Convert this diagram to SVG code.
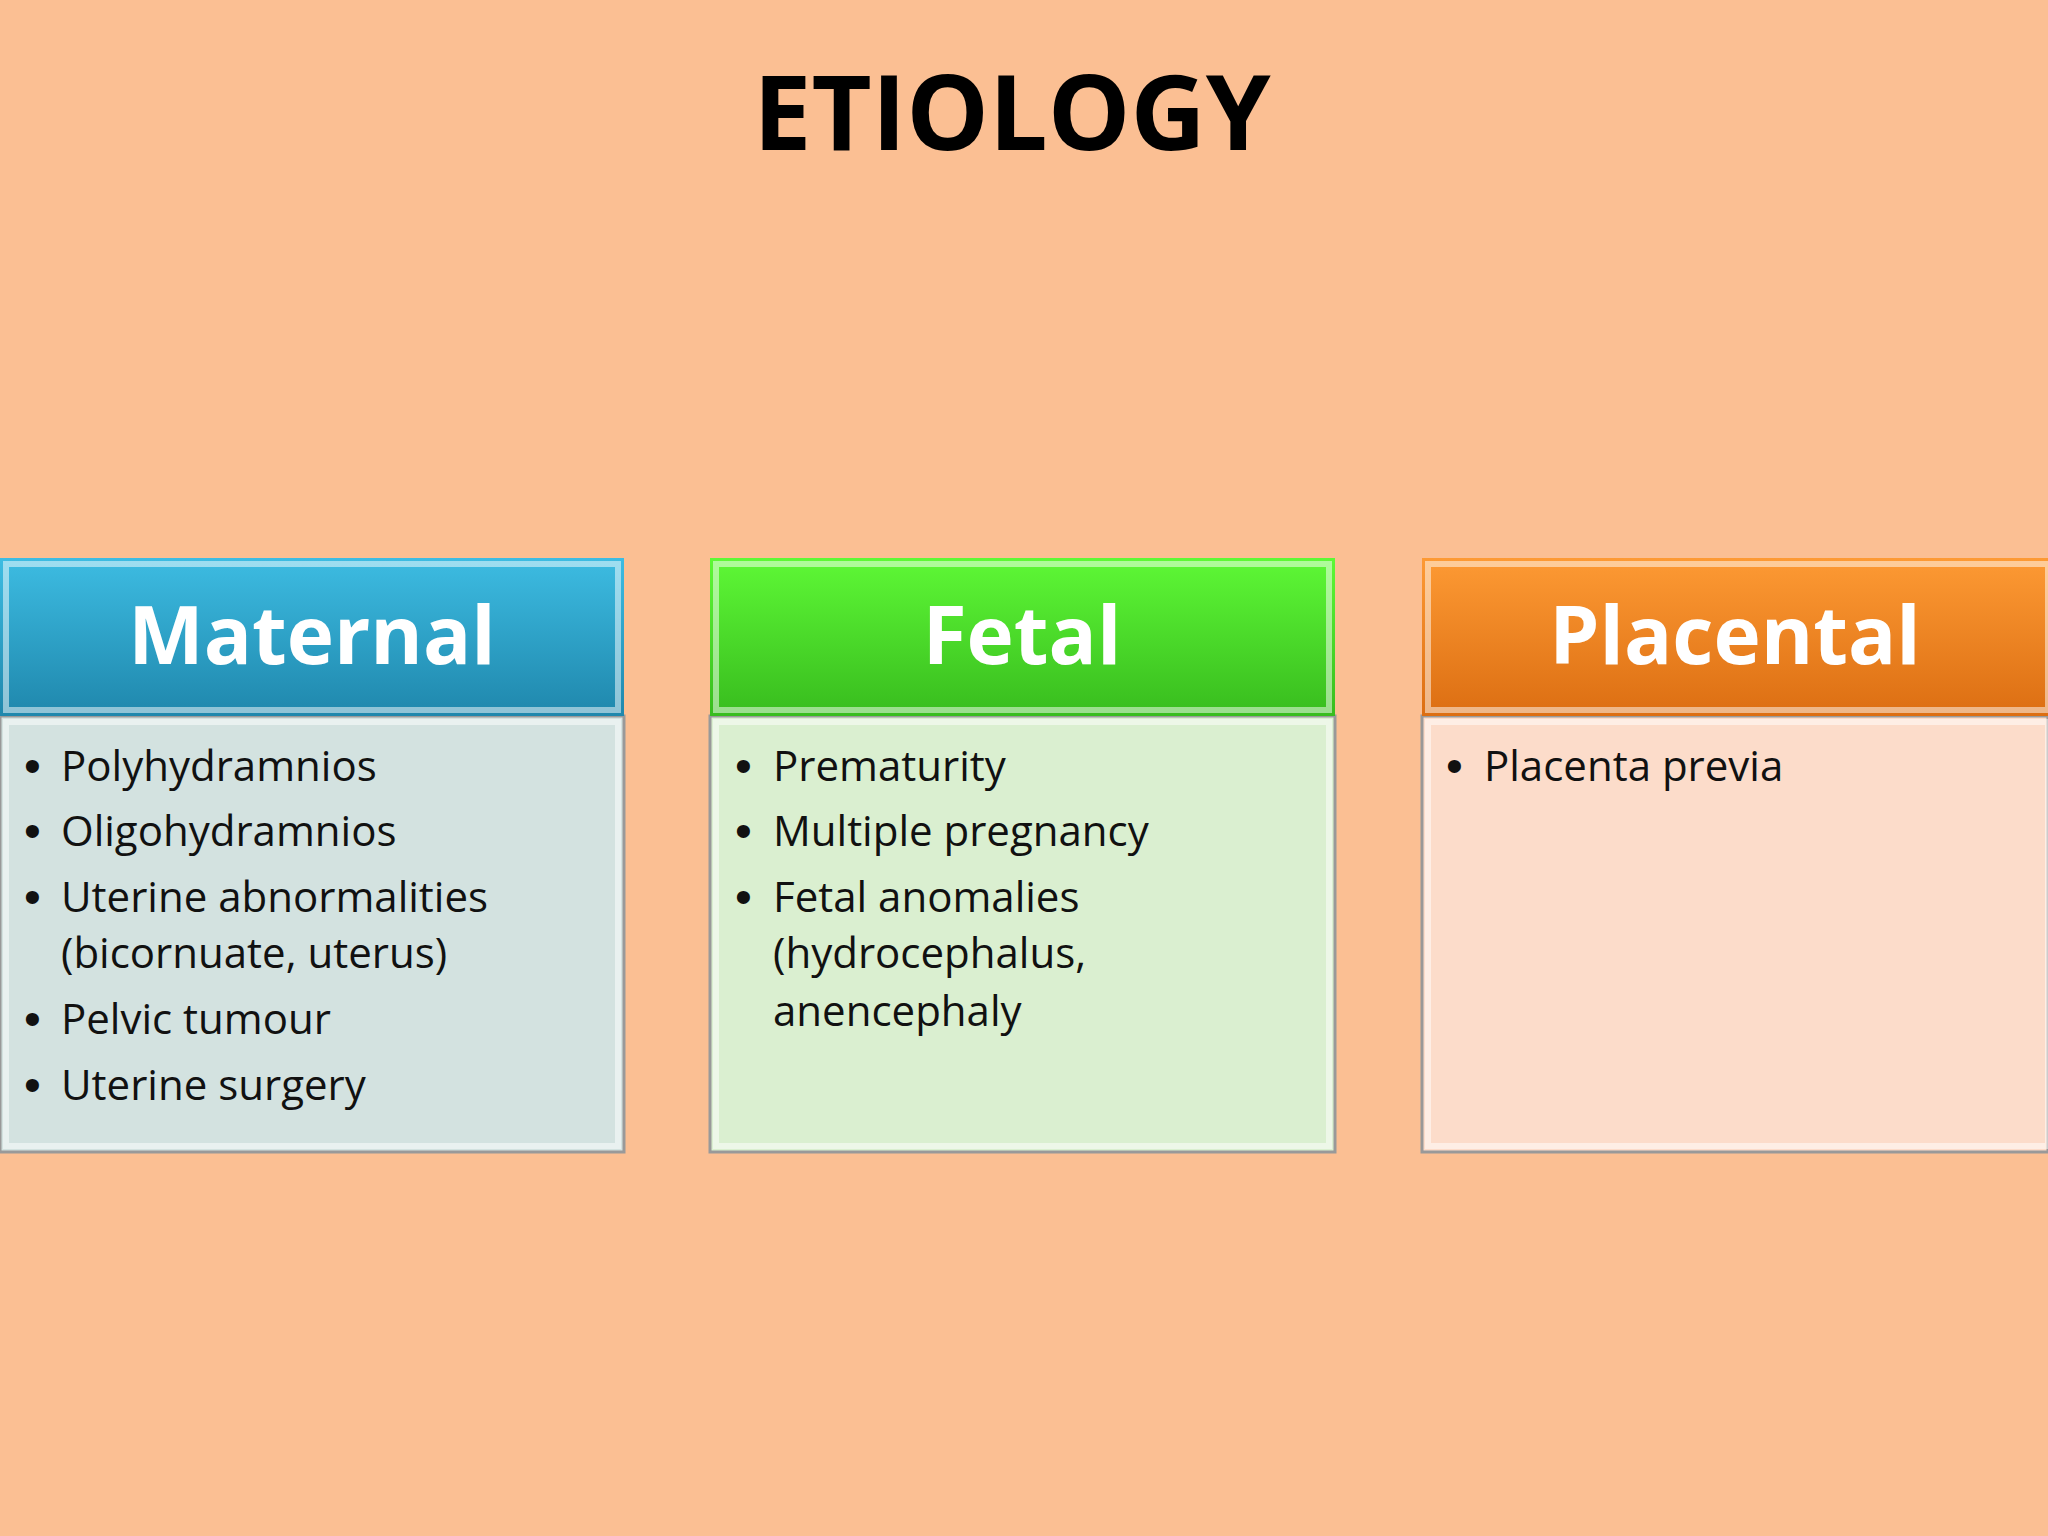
<svg xmlns="http://www.w3.org/2000/svg" width="2048" height="1536" viewBox="0 0 2048 1536">
<defs>
<linearGradient id="gb" x1="0" y1="0" x2="0" y2="1"><stop offset="0" stop-color="#3DBCE2"/><stop offset="1" stop-color="#1F87AC"/></linearGradient>
<linearGradient id="gg" x1="0" y1="0" x2="0" y2="1"><stop offset="0" stop-color="#5EF836"/><stop offset="1" stop-color="#38BC1E"/></linearGradient>
<linearGradient id="go" x1="0" y1="0" x2="0" y2="1"><stop offset="0" stop-color="#FD9A34"/><stop offset="1" stop-color="#DC6E12"/></linearGradient>
<style>
.h{font-family:"Open Sans","Liberation Sans",sans-serif;font-weight:bold;font-size:80px;fill:#fff;text-anchor:middle}
.t{font-family:"Open Sans","Liberation Sans",sans-serif;font-size:42px;fill:#111}
.b{font-family:"Liberation Sans",sans-serif;font-size:48px;fill:#111}
.edge{stroke:#fff;stroke-opacity:0.5;stroke-width:6;fill:none}
</style>
</defs>
<rect width="2048" height="1536" fill="#FBBF93"/>
<text x="1012" y="150" font-family="Open Sans,Liberation Sans,sans-serif" font-weight="bold" font-size="104" text-anchor="middle" fill="#000">ETIOLOGY</text>
<g id="maternal">
<rect x="0" y="716" width="624" height="436" style="fill:#D3E2E0;stroke:#999;stroke-width:3"/>
<rect x="6" y="722" width="612" height="424" class="edge"/>
<rect x="0" y="558" width="624" height="158" fill="url(#gb)"/>
<rect x="6" y="564" width="612" height="146" class="edge" stroke-opacity="0.3"/>
<text x="312" y="664" class="h">Maternal</text>
<text class="b"><tspan x="24" y="782">•</tspan><tspan x="24" y="847">•</tspan><tspan x="24" y="913">•</tspan><tspan x="24" y="1035">•</tspan><tspan x="24" y="1101">•</tspan></text>
<text class="t"><tspan x="61" y="781">Polyhydramnios</tspan><tspan x="61" y="846">Oligohydramnios</tspan><tspan x="61" y="912">Uterine abnormalities</tspan><tspan x="61" y="968">(bicornuate, uterus)</tspan><tspan x="61" y="1034">Pelvic tumour</tspan><tspan x="61" y="1100">Uterine surgery</tspan></text>
</g>
<g id="fetal">
<rect x="710" y="716" width="625" height="436" style="fill:#DAEFD0;stroke:#999;stroke-width:3"/>
<rect x="716" y="722" width="613" height="424" class="edge"/>
<rect x="710" y="558" width="625" height="158" fill="url(#gg)"/>
<rect x="716" y="564" width="613" height="146" class="edge" stroke-opacity="0.3"/>
<text x="1022" y="664" class="h">Fetal</text>
<text class="b"><tspan x="735" y="782">•</tspan><tspan x="735" y="847">•</tspan><tspan x="735" y="913">•</tspan></text>
<text class="t"><tspan x="773" y="781">Prematurity</tspan><tspan x="773" y="846">Multiple pregnancy</tspan><tspan x="773" y="912">Fetal anomalies</tspan><tspan x="773" y="968">(hydrocephalus,</tspan><tspan x="773" y="1026">anencephaly</tspan></text>
</g>
<g id="placental">
<rect x="1422" y="716" width="626" height="436" style="fill:#FCDCCA;stroke:#999;stroke-width:3"/>
<rect x="1428" y="722" width="620" height="424" class="edge"/>
<rect x="1422" y="558" width="626" height="158" fill="url(#go)"/>
<rect x="1428" y="564" width="620" height="146" class="edge" stroke-opacity="0.3"/>
<text x="1735" y="664" class="h">Placental</text>
<text class="b"><tspan x="1446" y="782">•</tspan></text>
<text class="t"><tspan x="1484" y="781">Placenta previa</tspan></text>
</g>
<g id="connectors"/>
</svg>
